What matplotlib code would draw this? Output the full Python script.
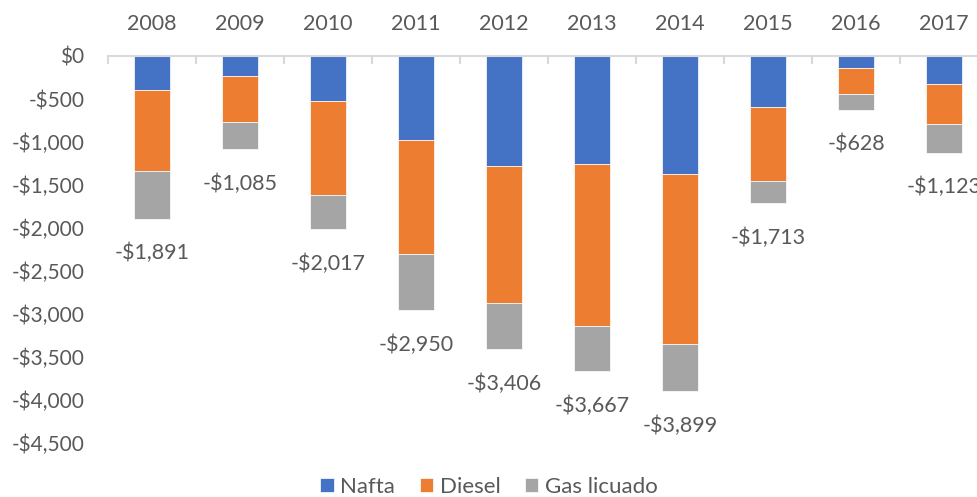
import numpy as np
import matplotlib
matplotlib.use("Agg")
from matplotlib import pyplot as plt

# datos (millones de dolares, negativos)
years = ["2008", "2009", "2010", "2011", "2012", "2013", "2014", "2015", "2016", "2017"]
nafta = [395, 233, 523, 977, 1279, 1256, 1368, 597, 143, 329]
diesel = [938, 538, 1093, 1329, 1597, 1884, 1985, 860, 299, 466]
gas = [558, 314, 401, 644, 530, 527, 546, 256, 186, 328]
totals = [1891, 1085, 2017, 2950, 3406, 3667, 3899, 1713, 628, 1123]
y_ticks = [0, -500, -1000, -1500, -2000, -2500, -3000, -3500, -4000, -4500]

plt.rcParams['font.family'] = ['Lato', 'DejaVu Sans']
txt = '#595959'

fig = plt.figure(figsize=(9.78, 4.97), dpi=100)
ax = fig.add_axes([108/978, 54/497, 880/978, 387/497])

x = np.arange(len(years))
n = -np.array(nafta)
d = -np.array(diesel)
g = -np.array(gas)
w = 0.4
ax.bar(x, n, w, color='#4472C4', label='Nafta', edgecolor='white', linewidth=0.5)
ax.bar(x, d, w, bottom=n, color='#ED7D31', label='Diesel', edgecolor='white', linewidth=0.5)
ax.bar(x, g, w, bottom=n + d, color='#A5A5A5', label='Gas licuado', edgecolor='white', linewidth=0.5)

bottoms = n + d + g
for i, t in enumerate(totals):
    ax.annotate('-${:,}'.format(t), (x[i], bottoms[i]), xytext=(0, -25),
                textcoords='offset points', ha='center', va='center',
                fontsize=15.5, color=txt, annotation_clip=False)

ax.set_xlim(-0.5, len(years) - 0.5)
ax.set_ylim(-4500, 0)
ax.set_yticks(y_ticks)
ax.set_yticklabels(['$0' if v == 0 else '-${:,}'.format(-v) for v in y_ticks])

ax.xaxis.tick_top()
ax.set_xticks(x)
ax.set_xticklabels(years)
ax.set_xticks(np.arange(-0.5, len(years), 1), minor=True)
ax.tick_params(axis='x', which='major', length=0, pad=16, labelsize=15.5, labelcolor=txt)
ax.tick_params(axis='x', which='minor', direction='in', length=6, width=1.5, color='#d9d9d9')
ax.tick_params(axis='y', length=0, pad=17, labelsize=15, labelcolor=txt)

for s in ['left', 'right', 'bottom']:
    ax.spines[s].set_visible(False)
ax.spines['top'].set_color('#d9d9d9')
ax.spines['top'].set_linewidth(1.5)

leg = fig.legend(loc='center', bbox_to_anchor=(0.5, 0.02), ncol=3, frameon=False,
                 fontsize=16, handlelength=0.6, handleheight=0.6, handletextpad=0.3,
                 columnspacing=1.1)
for t in leg.get_texts():
    t.set_color(txt)

fig.savefig('out.png', dpi=100)
